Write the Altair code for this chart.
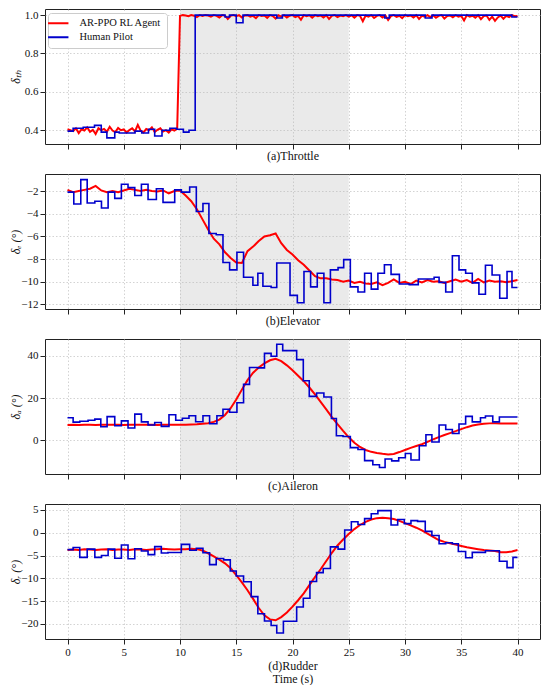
import altair as alt
import numpy as np
import pandas as pd

SERIES = ["AR-PPO RL Agent", "Human Pilot"]
COLORS = ["#ff0000", "#0000cc"]

# ---------------- Throttle ----------------
thr_red_t = list(np.round(np.arange(0, 161) * 0.25, 2))
thr_red_v = [
    0.405, 0.400, 0.395, 0.410, 0.385, 0.405, 0.398, 0.415, 0.392, 0.402,
    0.380, 0.410, 0.400, 0.407, 0.392, 0.418, 0.398, 0.390, 0.412, 0.400,
    0.404, 0.388, 0.401, 0.410, 0.394, 0.428, 0.398, 0.388, 0.406, 0.400,
    0.415, 0.390, 0.402, 0.410, 0.393, 0.400, 0.388, 0.405, 0.398, 0.408,
    0.996, 1.000, 0.998, 0.994, 1.000, 0.997, 0.990, 1.000, 0.996, 1.000,
    0.998, 0.992, 1.000, 0.996, 0.988, 1.000, 0.997, 0.980, 0.996, 1.000,
    0.994, 1.000, 0.988, 0.998, 1.000, 0.992, 0.996, 0.984, 1.000, 0.996,
    0.998, 0.986, 1.000, 0.995, 0.982, 0.999, 0.992, 1.000, 0.988, 0.997,
    1.000, 0.990, 0.996, 0.976, 1.000, 0.995, 0.999, 0.987, 1.000, 0.994,
    0.998, 0.988, 1.000, 0.980, 0.996, 1.000, 0.990, 0.998, 0.994, 1.000,
    0.992, 0.999, 0.987, 1.000, 0.996, 0.968, 0.998, 0.992, 1.000, 0.985,
    0.996, 1.000, 0.988, 0.998, 0.975, 0.995, 1.000, 0.991, 0.997, 0.984,
    1.000, 0.994, 0.998, 0.988, 1.000, 0.980, 0.996, 0.992, 1.000, 0.990,
    0.999, 0.986, 0.996, 1.000, 0.982, 0.995, 0.998, 0.989, 1.000, 0.992,
    0.996, 0.972, 1.000, 0.992, 0.997, 0.987, 1.000, 0.979, 0.995, 0.998,
    0.975, 0.992, 0.970, 0.988, 0.998, 0.981, 0.996, 0.990, 1.000, 0.994,
    0.996,
]
thr_blue_t = [0, 0.5, 1.4, 2.4, 3.0, 3.5, 4.2, 4.6, 6.0, 6.6, 7.2, 7.75, 8.4, 9.1,
              9.7, 10.3, 10.8, 11.35, 14.0, 14.4, 15.0, 15.6, 18.6, 19.1, 28.2,
              28.6, 31.8, 32.4, 39.5, 40.0]
thr_blue_v = [0.395, 0.41, 0.415, 0.425, 0.39, 0.36, 0.39, 0.385, 0.395, 0.385,
              0.405, 0.37, 0.40, 0.41, 0.405, 0.39, 0.40, 1.0, 0.99, 1.0, 0.96,
              1.0, 0.985, 1.0, 0.985, 1.0, 0.985, 1.0, 0.99, 0.99]

# ---------------- Elevator ----------------
half_t = list(np.round(np.arange(0, 81) * 0.5, 1))
elev_red_v = [
    -1.9, -2.1, -2.0, -1.9, -1.8, -1.55, -1.95, -2.1, -2.0, -2.1,
    -1.95, -1.8, -1.9, -2.0, -1.9, -2.0, -2.05, -1.95, -2.2, -2.0,
    -1.95, -2.4, -2.9, -3.6, -4.5, -5.4, -6.2, -6.7, -7.4, -7.9,
    -8.3, -8.35, -7.3, -6.9, -6.4, -6.0, -5.9, -5.75, -6.6, -7.2,
    -7.6, -8.1, -8.5, -9.0, -9.5, -9.7, -9.7, -9.8, -9.85, -10.0,
    -9.9, -10.1, -10.0, -10.15, -10.2, -10.05, -10.3, -10.1, -9.8, -10.1,
    -10.0, -10.2, -9.9, -10.05, -9.85, -10.0, -9.95, -10.1, -9.95, -9.8,
    -10.0, -9.85, -10.1, -9.75, -10.05, -9.9, -10.0, -9.95, -10.05, -9.95,
    -9.85,
]
elev_blue_t = [0, 0.56, 1.18, 1.75, 2.43, 3.02, 3.61, 4.2, 4.79, 5.38,
               5.98, 6.57, 7.16, 7.9, 8.49, 9.53, 10.12, 10.86, 11.45, 12.04,
               12.57, 13.22, 13.82, 14.41, 15.06, 15.65, 16.48, 16.92, 17.37, 18.1,
               18.6, 19.78, 20.43, 21.02, 21.61, 22.2, 22.79, 23.37, 24.05, 24.55,
               25.14, 25.82, 26.41, 27.0, 27.59, 28.17, 28.76, 29.5, 30.38, 31.18,
               32.59, 33.03, 33.62, 34.21, 34.8, 35.39, 35.98, 36.57, 37.15, 37.74,
               38.42, 39.07, 39.51, 40.0]
elev_blue_v = [-2.1, -3.15, -1.0, -3.05, -2.9, -3.5, -2.1, -2.65, -1.4, -1.7,
               -2.4, -1.4, -2.75, -1.8, -3.0, -1.9, -2.1, -1.65, -3.8, -3.1,
               -5.75, -5.85, -8.3, -8.95, -7.4, -9.6, -10.3, -9.25, -10.4, -10.5,
               -8.35, -11.2, -11.85, -9.1, -10.45, -9.25, -11.85, -8.95, -8.75, -8.05,
               -10.45, -10.9, -9.25, -10.65, -9.25, -8.5, -9.35, -10.2, -10.25, -9.75,
               -9.6, -10.05, -10.9, -7.7, -8.95, -9.25, -10.1, -11.1, -8.55, -9.4,
               -11.45, -9.1, -10.5, -10.5]

# ---------------- Aileron ----------------
ail_red_v = [
    7.2, 7.3, 7.2, 7.4, 7.3, 7.2, 7.3, 7.4, 7.3, 7.3,
    7.2, 7.4, 7.3, 7.3, 7.4, 7.3, 7.2, 7.3, 7.4, 7.3,
    7.3, 7.4, 7.5, 7.6, 7.8, 8.1, 8.7, 9.8, 12.0, 15.2,
    19.3, 24.0, 28.5, 32.0, 34.5, 36.4, 37.9, 38.6, 37.5, 35.5,
    33.2, 30.6, 28.0, 25.0, 21.7, 18.2, 14.6, 11.0, 7.6, 4.4,
    1.4, -1.2, -3.2, -4.6, -5.5, -6.0, -6.4, -6.7, -6.5, -5.6,
    -4.6, -3.6, -2.7, -1.9, -0.8, 0.4, 1.5, 2.5, 3.4, 4.3,
    5.3, 6.2, 7.0, 7.5, 7.8, 8.0, 8.1, 8.0, 8.0, 8.0,
    8.0,
]
ail_blue_t = [0, 0.5, 1.09, 1.83, 2.43, 2.96, 3.52, 4.2, 4.79, 5.38,
              5.98, 6.57, 7.16, 7.75, 8.34, 9.02, 9.62, 10.21, 10.8, 11.39,
              12.04, 12.63, 13.28, 13.82, 14.41, 15.06, 15.65, 16.18, 16.92, 17.51,
              18.1, 18.6, 19.13, 20.37, 20.96, 21.49, 22.14, 22.79, 23.46, 23.9,
              24.49, 25.14, 25.82, 26.41, 27.14, 27.73, 28.23, 28.82, 29.44, 30.03,
              30.53, 31.27, 31.86, 32.39, 33.03, 33.62, 34.21, 34.8, 35.39, 35.98,
              36.71, 37.15, 37.8, 38.39, 40.0]
ail_blue_v = [10.7, 8.6, 9.0, 9.5, 10.0, 6.4, 11.2, 6.9, 9.2, 5.8,
              12.4, 8.7, 7.2, 8.4, 6.6, 12.1, 9.5, 10.4, 11.6, 8.8,
              11.6, 7.8, 11.6, 14.7, 13.3, 17.8, 26.5, 34.5, 34.3, 41.2,
              39.8, 45.5, 42.5, 38.2, 28.2, 20.8, 22.4, 20.5, 10.3, 2.1,
              1.8, -3.5, -4.4, -9.65, -11.6, -12.9, -8.9, -9.8, -8.3, -6.3,
              -9.35, -2.6, 2.6, -0.8, 7.2, 5.1, 3.2, 7.7, 11.3, 8.7,
              10.7, 11.5, 8.7, 11.0, 11.0]

# ---------------- Rudder ----------------
rud_red_v = [
    -3.8, -3.7, -3.8, -3.6, -3.7, -3.8, -3.7, -3.6, -3.8, -3.7,
    -3.7, -3.8, -3.6, -3.7, -3.8, -3.7, -3.6, -3.5, -3.6, -3.7,
    -3.6, -3.6, -3.5, -3.6, -3.9, -4.5, -5.2, -5.9, -6.7, -7.8,
    -9.3, -10.9, -12.6, -14.5, -16.5, -18.1, -19.0, -19.2, -18.5, -17.5,
    -16.2, -14.8, -13.3, -11.5, -9.7, -8.0, -6.2, -4.4, -2.8, -1.5,
    -0.3, 0.8, 1.7, 2.4, 2.9, 3.2, 3.3, 3.2, 3.0, 2.6,
    2.1, 1.6, 1.1, 0.5, -0.2, -0.9, -1.6, -2.0, -2.3, -2.6,
    -2.9, -3.2, -3.4, -3.6, -3.8, -3.9, -4.0, -4.3, -4.3, -4.1,
    -3.8,
]
rud_blue_t = [0, 0.5, 1.09, 1.75, 2.43, 3.02, 3.61, 4.2, 4.79, 5.38,
              5.98, 6.57, 7.16, 7.75, 8.34, 8.93, 10.12, 10.86, 11.45, 12.04,
              12.63, 13.22, 13.88, 14.47, 15.0, 15.65, 16.33, 16.92, 17.51, 18.1,
              18.6, 19.19, 20.37, 20.96, 21.55, 22.14, 22.73, 23.37, 24.05, 24.64,
              25.23, 25.82, 26.41, 27.0, 27.59, 28.76, 29.35, 29.94, 30.53, 31.12,
              31.8, 32.39, 33.03, 33.62, 34.21, 34.74, 35.39, 35.98, 37.15, 38.39,
              39.07, 39.6, 40.0]
rud_blue_v = [-3.7, -3.25, -5.4, -3.6, -5.4, -5.0, -3.6, -5.6, -2.7, -5.7,
              -3.5, -4.0, -4.8, -3.05, -4.45, -4.35, -2.55, -3.85, -3.4, -4.4,
              -7.0, -5.65, -5.95, -8.4, -9.5, -10.75, -14.0, -17.75, -19.35, -20.35,
              -22.0, -19.4, -16.3, -14.35, -10.7, -8.75, -7.85, -3.1, -3.6, 0.6,
              2.4, 1.8, 3.1, 4.15, 4.85, 1.7, 2.9, 2.0, 2.65, 2.5,
              0.3, -0.6, -2.4, -2.2, -2.4, -4.1, -5.5, -4.3, -3.95, -6.25,
              -7.65, -5.4, -5.4]

X_TICKS = [0, 5, 10, 15, 20, 25, 30, 35, 40]
SHADE_START, SHADE_END = [10], [25]

W, H = 495, 135
FONT = "Liberation Serif"


def panel(red_t, red_v, blue_t, blue_v, ydom, yticks, yfmt, ytitle, xtitle,
          xlabels, legend):
    red = pd.DataFrame({"t": red_t, "v": red_v, "s": SERIES[0]})
    blue = pd.DataFrame({"t": blue_t, "v": blue_v, "s": SERIES[1]})

    xscale = alt.Scale(domain=[-2, 42], nice=False, zero=False)
    yscale = alt.Scale(domain=ydom, nice=False, zero=False)

    common = dict(grid=True, tickSize=5, labelPadding=2, labelFont=FONT,
                  titleFont=FONT, labelFontSize=11, titleFontSize=12,
                  titleFontWeight="normal", labelColor="#111111",
                  titleColor="#111111", domain=False, tickColor="#222222",
                  gridColor="#c8c8c8", gridDash=[1.5, 2], gridWidth=0.8)
    xaxis = alt.Axis(values=X_TICKS, labels=xlabels, title=xtitle,
                     titlePadding=3 if xlabels else 1,
                     titleLineHeight=13.5, **common)
    yaxis = alt.Axis(values=yticks, format=yfmt, title=ytitle,
                     titleX=-23, titleY=H / 2, titleFontStyle="italic", **common)

    if legend:
        leg = alt.Legend(title=None, orient="none", legendX=3, legendY=4,
                         strokeColor="#cccccc", fillColor="white", padding=5,
                         cornerRadius=3, labelFontSize=10.5, labelFont=FONT,
                         labelColor="#111111",
                         symbolType="M-4,0H4", symbolStrokeWidth=2,
                         symbolSize=26, rowPadding=3, labelOffset=16)
    else:
        leg = None
    color = alt.Color("s:N", scale=alt.Scale(domain=SERIES, range=COLORS),
                      legend=leg)

    shade = alt.Chart(pd.DataFrame({"t": SHADE_START, "t2": SHADE_END})).mark_rect(
        color="#bbbbbb", opacity=0.3
    ).encode(
        x=alt.X("t:Q", scale=xscale, axis=xaxis),
        x2="t2:Q",
        y=alt.value(0),
        y2=alt.value(H),
    )
    red_line = alt.Chart(red).mark_line(strokeWidth=2, clip=True).encode(
        x=alt.X("t:Q", scale=xscale, axis=xaxis),
        y=alt.Y("v:Q", scale=yscale, axis=yaxis),
        color=color,
    )
    blue_line = alt.Chart(blue).mark_line(
        strokeWidth=1.6, interpolate="step-after", clip=True
    ).encode(
        x=alt.X("t:Q", scale=xscale, axis=xaxis),
        y=alt.Y("v:Q", scale=yscale, axis=yaxis),
        color=color,
    )
    return alt.layer(shade, red_line, blue_line).properties(width=W, height=H)


pa = panel(thr_red_t, thr_red_v, thr_blue_t, thr_blue_v, [0.328, 1.032],
           [0.4, 0.6, 0.8, 1.0], ".1f", "δₜₕ", "(a)Throttle", False, True)
pb = panel(half_t, elev_red_v, elev_blue_t, elev_blue_v, [-12.4, -0.5],
           [-12, -10, -8, -6, -4, -2], "d", "δₑ (°)", "(b)Elevator", False, False)
pc = panel(half_t, ail_red_v, ail_blue_t, ail_blue_v, [-16, 48],
           [0, 20, 40], "d", "δₐ (°)", "(c)Aileron", False, False)
pd_ = panel(half_t, rud_red_v, rud_blue_t, rud_blue_v, [-23.3, 6.3],
            [-20, -15, -10, -5, 0, 5], "d", "δᵣ (°)", ["(d)Rudder", "Time (s)"],
            True, False)

chart = alt.vconcat(pa, pb, pc, pd_, spacing=11).resolve_scale(
    color="independent"
).properties(
    padding={"left": 0, "top": 0, "right": 0, "bottom": 0},
    background="white",
).configure_view(
    stroke="#222222", strokeWidth=1, fill="white"
)

chart.save("out.html", embed_options={"renderer": "svg", "actions": False})
